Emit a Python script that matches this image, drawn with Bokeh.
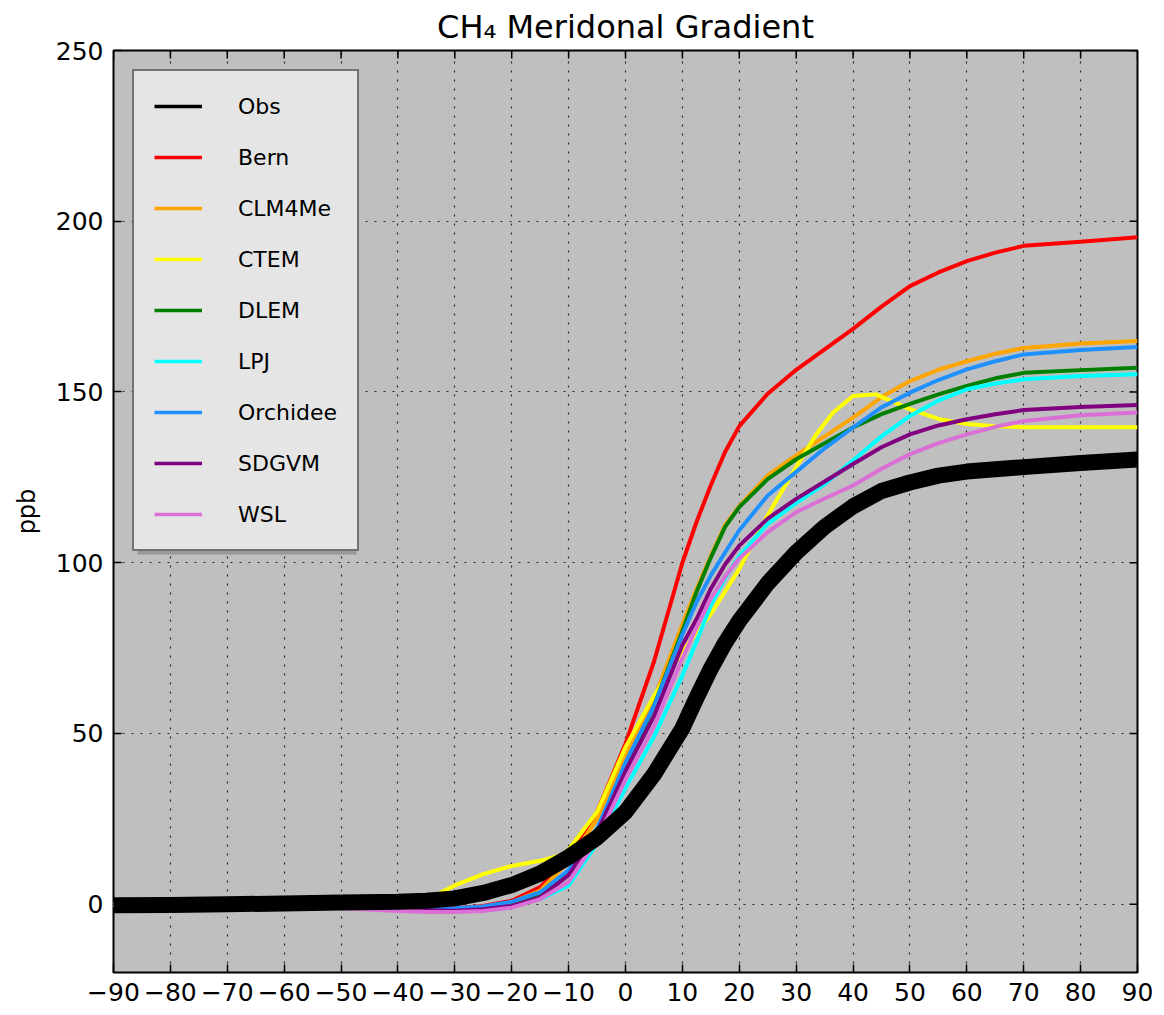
import math
from bokeh.plotting import figure
from bokeh.models import Legend, LegendItem, BoxAnnotation, FixedTicker, Range1d
from bokeh.embed import file_html
from bokeh.resources import INLINE

# ---------------- data ----------------
LAT = [-90, -80, -70, -60, -50, -40, -35, -30, -25, -20, -15, -10, -5, 0, 5, 10, 12.5, 15, 17.5, 20,
       25, 30, 35, 40, 45, 50, 55, 60, 65, 70, 80, 90]

OBS = [-0.3, -0.2, 0.0, 0.2, 0.5, 0.7, 1.0, 1.7, 3.3, 5.6, 9.0, 13.8, 19.5, 27.0, 38.0, 51.5, 60.5, 69.0,
       76.5, 83.0, 94.0, 103.0, 110.5, 116.5, 121.0, 123.5, 125.5, 126.7, 127.4, 128.0, 129.2, 130.2]
BERN = [0.0, 0.0, -0.1, -0.2, -0.5, -1.0, -1.2, -1.2, -0.5, 1.0, 5.0, 13.5, 27.0, 47.0, 71.0, 100.0, 112.0,
        122.7, 132.4, 140.0, 149.5, 156.5, 162.5, 168.5, 175.0, 181.0, 185.0, 188.3, 190.8, 192.8, 194.0, 195.3]
CLM4ME = [0.0, 0.0, -0.1, -0.2, -0.7, -1.2, -1.3, -1.3, -0.8, 0.5, 4.0, 12.5, 25.0, 43.5, 60.0, 82.0, 92.4,
          102.0, 111.0, 116.6, 125.6, 131.4, 137.0, 142.5, 148.5, 153.2, 156.5, 159.0, 161.2, 162.9, 164.2, 164.9]
DLEM = [0.0, 0.0, -0.1, -0.2, -0.6, -1.2, -1.4, -1.4, -1.0, 0.0, 3.0, 9.5, 22.0, 39.5, 58.0, 80.0, 91.5,
        101.5, 110.5, 116.3, 124.5, 130.3, 135.0, 139.6, 143.5, 146.5, 149.3, 151.8, 154.0, 155.6, 156.4, 157.1]
LPJ = [0.0, 0.0, -0.1, -0.2, -0.6, -1.3, -1.6, -1.7, -1.5, -0.5, 1.5, 5.5, 17.8, 34.0, 49.0, 67.0, 77.0,
       87.5, 95.5, 102.0, 111.4, 117.5, 123.0, 130.0, 137.0, 143.0, 147.5, 150.8, 152.5, 153.7, 154.7, 155.2]
ORCHIDEE = [0.0, 0.0, -0.1, -0.2, -0.6, -1.2, -1.3, -1.2, -0.7, 0.7, 3.5, 10.0, 22.0, 41.5, 58.0, 79.0, 88.5,
            96.3, 103.0, 109.5, 119.7, 126.6, 133.5, 139.6, 145.5, 149.8, 153.5, 156.6, 159.0, 161.0, 162.3, 163.2]
SDGVM = [0.0, 0.0, -0.1, -0.3, -0.8, -1.5, -1.8, -1.9, -1.5, -0.5, 2.0, 8.5, 21.0, 39.0, 55.0, 75.9, 83.5,
         92.4, 99.5, 105.0, 112.9, 118.7, 123.8, 128.9, 133.8, 137.6, 140.2, 142.0, 143.5, 144.7, 145.6, 146.2]
WSL = [-0.3, -0.3, -0.4, -0.5, -1.2, -2.0, -2.3, -2.3, -2.0, -1.0, 1.5, 6.5, 19.0, 36.5, 52.0, 72.0, 81.0,
       89.5, 96.0, 101.2, 109.0, 114.8, 118.8, 122.6, 127.5, 131.8, 135.0, 137.6, 139.8, 141.5, 143.2, 144.0]

LAT_CTEM = [-90, -80, -70, -60, -50, -40, -35, -30, -25, -20, -15, -11, -10, -5, 0, 5, 10, 15, 20, 25,
            30, 33.5, 36.5, 40, 44, 50, 55, 60, 65, 70, 80, 90]
CTEM = [-0.3, -0.2, 0.0, 0.2, 0.5, 0.7, 1.2, 5.5, 8.8, 11.2, 12.7, 14.5, 16.0, 27.0, 46.0, 61.0, 74.0, 85.0,
        98.2, 113.9, 128.0, 137.5, 144.0, 148.8, 149.3, 145.0, 142.1, 140.6, 140.0, 139.7, 139.7, 139.7]

MODELS = ["Bern", "CLM4Me", "CTEM", "DLEM", "LPJ", "Orchidee", "SDGVM", "WSL"]
COLORS = ["#ff0000", "#ffa500", "#ffff00", "#008000", "#00ffff", "#1e90ff", "#800080", "#da70d6"]

XTICKS = [-90, -80, -70, -60, -50, -40, -30, -20, -10, 0, 10, 20, 30, 40, 50, 60, 70, 80, 90]
XTICK_LABELS = ["\u221290", "\u221280", "\u221270", "\u221260", "\u221250", "\u221240", "\u221230",
                "\u221220", "\u221210", "0", "10", "20", "30", "40", "50", "60", "70", "80", "90"]
YTICKS = [0, 50, 100, 150, 200, 250]
YTICK_LABELS = ["0", "50", "100", "150", "200", "250"]

TITLE = "CH\u2084 Meridonal Gradient"
YLABEL = "ppb"

# ---------------- figure ----------------
FONT = "DejaVu Sans"
W, H = 1164, 1015
ML, MR, MT, MB = 113, 27, 50, 43
X0, X1, Y0, Y1 = -90, 90, -20, 250

p = figure(width=W, height=H, x_range=Range1d(X0, X1), y_range=Range1d(Y0, Y1),
           output_backend="svg", toolbar_location=None,
           min_border_left=ML, min_border_right=MR, min_border_top=MT, min_border_bottom=MB)
p.title.text = TITLE
p.title.text_font = FONT
p.title.text_font_size = "32px"
p.title.text_font_style = "normal"
p.title.text_color = "black"
p.title.align = "center"
p.title.standoff = 10

p.background_fill_color = "#bfbfbf"
p.border_fill_color = "white"
p.outline_line_color = "black"
p.outline_line_width = 2

for ax, ticks, labels in [(p.xaxis[0], XTICKS, XTICK_LABELS), (p.yaxis[0], YTICKS, YTICK_LABELS)]:
    ax.ticker = FixedTicker(ticks=ticks)
    ax.major_label_overrides = dict(zip(ticks, labels))
    ax.major_label_text_font = FONT
    ax.major_label_text_font_size = "25px"
    ax.major_label_text_color = "black"
    ax.major_tick_in = 8
    ax.major_tick_out = 0
    ax.major_tick_line_color = "black"
    ax.major_tick_line_width = 1.5
    ax.minor_tick_line_color = None
    ax.axis_line_color = None
    ax.major_label_standoff = 10

p.yaxis.axis_label = YLABEL
p.yaxis.axis_label_text_font = FONT
p.yaxis.axis_label_text_font_size = "24px"
p.yaxis.axis_label_text_font_style = "normal"
p.yaxis.axis_label_text_color = "black"
p.yaxis.axis_label_standoff = 12

for g, ticks in [(p.xgrid[0], XTICKS), (p.ygrid[0], YTICKS)]:
    g.ticker = FixedTicker(ticks=ticks)
    g.grid_line_color = "black"
    g.grid_line_dash = "2 7"
    g.grid_line_alpha = 0.8
    g.grid_line_width = 1.2

# inward tick marks on the top and right edges (half of each dash is clipped by the frame)
p.scatter(XTICKS, [Y1] * len(XTICKS), marker="dash", size=16, angle=math.pi / 2,
          line_color="black", line_width=1.5)
p.scatter([X1] * len(YTICKS), YTICKS, marker="dash", size=16,
          line_color="black", line_width=1.5)

SERIES = [BERN, CLM4ME, CTEM, DLEM, LPJ, ORCHIDEE, SDGVM, WSL]
for name, col, ys in zip(MODELS, COLORS, SERIES):
    xs = LAT_CTEM if name == "CTEM" else LAT
    p.line(xs, ys, line_color=col, line_width=4, line_join="round")
p.line(LAT, OBS, line_color="black", line_width=16, line_join="round")

# legend handles (thin lines, not visible in the plot)
NAN = float("nan")
leg_r = [p.line([NAN], [NAN], line_color="black", line_width=3.5)]
for col in COLORS:
    leg_r.append(p.line([NAN], [NAN], line_color=col, line_width=3.5))
labels = ["Obs"] + MODELS
items = [LegendItem(label=l, renderers=[r]) for l, r in zip(labels, leg_r)]


def px2x(px):
    return X0 + (px - ML) * (X1 - X0) / (W - ML - MR)


def py2y(py):
    return Y1 - (py - MT) * (Y1 - Y0) / (H - MT - MB)


shadow = BoxAnnotation(left=px2x(137), right=px2x(356), top=py2y(76), bottom=py2y(554),
                       fill_color="#808080", fill_alpha=0.6, line_color=None)
p.add_layout(shadow)

legend = Legend(items=items, location="top_left", margin=19)
legend.background_fill_color = "#e5e5e5"
legend.background_fill_alpha = 1.0
legend.border_line_color = "black"
legend.border_line_width = 2
legend.label_text_font = FONT
legend.label_text_font_size = "22px"
legend.label_text_color = "black"
legend.glyph_width = 48
legend.glyph_height = 30
legend.label_height = 30
legend.spacing = 21
legend.padding = 20
legend.label_standoff = 36
p.add_layout(legend)

open("out.html", "w").write(file_html(p, INLINE))
